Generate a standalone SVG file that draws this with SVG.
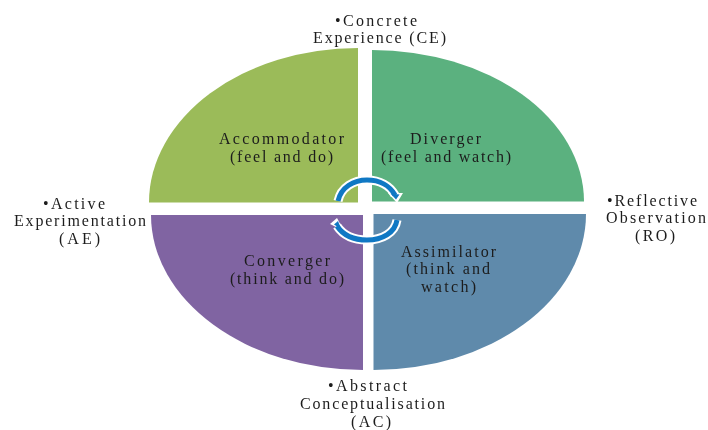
<svg xmlns="http://www.w3.org/2000/svg" width="708" height="430" viewBox="0 0 708 430">
<defs>
<filter id="soft" x="-5%" y="-20%" width="110%" height="140%"><feGaussianBlur stdDeviation="0.35"/></filter>
</defs>
<style>
text{font-family:"Liberation Serif","Times New Roman",serif;font-size:16px;fill:#1c1c1c;filter:url(#soft)}
.halo{fill:none;stroke:#fff;stroke-width:9}
.halotip{fill:#fff}
.arc{fill:none;stroke:#0f78c4;stroke-width:5}
.tip{fill:#0f78c4}
</style>
<rect width="708" height="430" fill="#fff"/>
<g id="accommodator">
<path d="M358 48V202.500H149A209 154.500 0 0 1 358 48Z" fill="#9bbb59"/>
<text x="219" y="144" textLength="125" lengthAdjust="spacing">Accommodator</text>
<text x="230" y="162" textLength="103" lengthAdjust="spacing">(feel and do)</text>
</g>
<g id="diverger">
<path d="M372 50V201.500H584A212 151.500 0 0 0 372 50Z" fill="#5bb17f"/>
<text x="410" y="144" textLength="71" lengthAdjust="spacing">Diverger</text>
<text x="381" y="162" textLength="130" lengthAdjust="spacing">(feel and watch)</text>
</g>
<g id="converger">
<path d="M363 215V370A212 155 0 0 1 151 215Z" fill="#8064a2"/>
<text x="244" y="266" textLength="86" lengthAdjust="spacing">Converger</text>
<text x="230" y="284" textLength="114" lengthAdjust="spacing">(think and do)</text>
</g>
<g id="assimilator">
<path d="M373.500 214V370A212.500 156 0 0 0 586 214Z" fill="#5f8aab"/>
<text x="401" y="256.500" textLength="95" lengthAdjust="spacing">Assimilator</text>
<text x="406" y="274.200" textLength="84" lengthAdjust="spacing">(think and</text>
<text x="421" y="292" textLength="55" lengthAdjust="spacing">watch)</text>
</g>
<g id="concrete-experience">
<text x="335" y="25.500" textLength="82" lengthAdjust="spacing">•Concrete</text>
<text x="313" y="43.300" textLength="133" lengthAdjust="spacing">Experience (CE)</text>
</g>
<g id="reflective-observation">
<text x="607" y="205.500" textLength="90" lengthAdjust="spacing">•Reflective</text>
<text x="606" y="223.300" textLength="100" lengthAdjust="spacing">Observation</text>
<text x="635" y="241" textLength="40" lengthAdjust="spacing">(RO)</text>
</g>
<g id="active-experimentation">
<text x="43" y="208.500" textLength="62" lengthAdjust="spacing">•Active</text>
<text x="14" y="226.300" textLength="132" lengthAdjust="spacing">Experimentation</text>
<text x="59" y="244" textLength="41" lengthAdjust="spacing">(AE)</text>
</g>
<g id="abstract-conceptualisation">
<text x="328" y="391" textLength="79" lengthAdjust="spacing">•Abstract</text>
<text x="300" y="408.800" textLength="145" lengthAdjust="spacing">Conceptualisation</text>
<text x="351" y="426.500" textLength="40" lengthAdjust="spacing">(AC)</text>
</g>
<g id="connectors">
<path class="halo" d="M338 201C341 187 354 180 367 180C380 180 390 186 395 195"/>
<path class="halotip" d="M388 193L403 193L397 203Z"/>
<path class="arc" d="M338 201C341 187 354 180 367 180C380 180 390 186 395 195"/>
<path class="tip" d="M390.500 193.500L399.500 194.500L396 199.500Z"/>
<path class="halo" d="M397 220C395 233 382 240 367 240C354 240 343 235 337 226"/>
<path class="halotip" d="M344 231L330 224L337 218Z"/>
<path class="arc" d="M397 220C395 233 382 240 367 240C354 240 343 235 337 226"/>
<path class="tip" d="M341 229L334 224.500L338 221Z"/>
</g>
</svg>
